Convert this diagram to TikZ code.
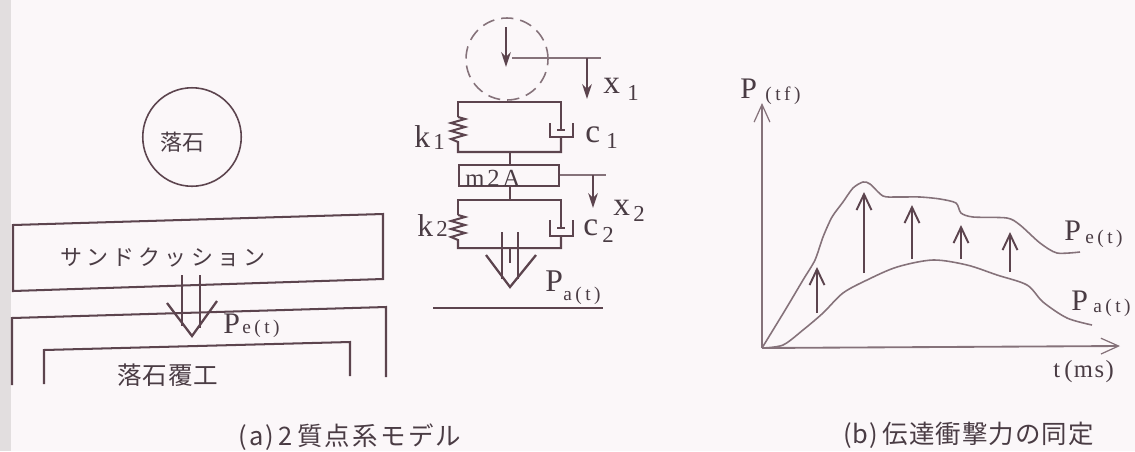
\documentclass[tikz,border=0pt]{standalone}
\usepackage{fontspec}
\usepackage{xcolor}
\setmainfont{Liberation Serif}
\newfontfamily\jpfont{Noto Sans CJK JP}
\usetikzlibrary{arrows.meta}
\definecolor{PaperBg}{HTML}{FBF7F9}
\definecolor{PaperEdge}{HTML}{E2DEDF}
\definecolor{InkLine}{HTML}{5C444E}
\definecolor{InkSoft}{HTML}{85727A}
\definecolor{InkText}{HTML}{4A3C44}
\tikzset{
  inkline/.style={draw=InkLine,line width=1.15pt},
  softline/.style={draw=InkSoft,line width=0.7pt},
  pullarrow/.style={draw=InkLine,line width=1.1pt,-{Stealth[length=8.5pt,width=5.5pt]}},
  forcearrow/.style={draw=InkLine,line width=1.2pt,-{Straight Barb[length=9pt,width=8.5pt,line width=1.1pt]}},
  axisline/.style={draw=InkSoft,line width=1.05pt,-{Straight Barb[length=10pt,width=9pt,line width=0.7pt]}},
  curveline/.style={draw=InkSoft,line width=0.9pt},
  ltext/.style={text=InkText,inner sep=0pt,anchor=base west,font=\fontsize{17}{17}\selectfont},
  lsmall/.style={text=InkText,inner sep=0pt,anchor=base west,font=\fontsize{13}{13}\selectfont},
  lsub/.style={text=InkText,inner sep=0pt,anchor=base west,font=\fontsize{11}{11}\selectfont\addfontfeature{LetterSpace=18}},
  jtext/.style={text=InkText,inner sep=0pt,font=\jpfont\fontsize{12.5}{13}\selectfont},
  captext/.style={text=InkText,inner sep=0pt,font=\jpfont\fontsize{14.5}{15}\selectfont\addfontfeature{LetterSpace=9}}
}
\begin{document}
\begin{tikzpicture}[x=0.02cm,y=-0.02cm]
\path[use as bounding box] (0,0) rectangle (1135,451);
\fill[PaperBg] (0,0) rectangle (1135,451);
\fill[PaperEdge] (0,0) rectangle (11,451);
% (a) left: rock, cushion, shed
\node[circle,draw=InkLine,line width=0.9pt,minimum size=1.97cm,inner sep=0pt] (rock) at (192,137) {};
\node[jtext] (rockLabel) at (182,142) {落石};
\draw[inkline] (13,225) -- (383,214) -- (383,279) -- (13,291) -- cycle;
\node[jtext,anchor=west] (cushion) at (60,257) {\addfontfeature{LetterSpace=19}サンドクッション};
\draw[inkline] (12,385) -- (12,318) -- (386,307) -- (386,377);
\draw[inkline] (44,384) -- (44,350) -- (350,342) -- (350,376);
\node[jtext,anchor=west,font=\jpfont\fontsize{14}{14}\selectfont] (shed) at (117,375) {\addfontfeature{LetterSpace=3}落石覆工};
\coordinate (peTip) at (192,336);
\draw[inkline] (182,275) -- (182,326);
\draw[inkline] (200,275) -- (200,328);
\draw[inkline,line width=1.3pt] (167,303) -- (peTip) -- (217,301);
\node[ltext] (peLeft) at (223,333) {P};
\node[lsub] (peLeftSub) at (242,333) {e(t)};
% (a) right: two mass model
\node[circle,draw=InkSoft,dash pattern=on 7pt off 4pt,line width=0.9pt,minimum size=1.64cm,inner sep=0pt] (mass1) at (507,59) {};
\draw[pullarrow] (506,27) -- (506,67);
\coordinate (x1Start) at (512,58);
\coordinate (x1End) at (601,58);
\draw[softline] (x1Start) -- (x1End);
\draw[pullarrow] (587,58) -- (587,99);
\node[ltext,font=\fontsize{19}{19}\selectfont] (x1Label) at (603,93) {x};
\node[lsmall] (x1Sub) at (627,100) {1};
% upper spring and damper
\draw[inkline] (458,117) -- (458,102) -- (561,102) -- (561,130);
\draw[inkline] (458,117) -- (465,119) -- (451,123) -- (465,127) -- (451,131) -- (465,135) -- (451,139) -- (458,142) -- (458,152) -- (561,152) -- (561,137);
\draw[inkline] (550,123) -- (550,137) -- (573,137) -- (573,123);
\draw[inkline,line width=1.5pt] (557,130) -- (565,130);
\node[ltext,font=\fontsize{18}{18}\selectfont] (k1Label) at (414,147) {k};
\node[lsmall] (k1Sub) at (433,149) {1};
\node[ltext,font=\fontsize{19}{19}\selectfont] (c1Label) at (585,142) {c};
\node[lsmall] (c1Sub) at (606,148) {1};
% mass
\node[draw=InkLine,line width=1.15pt,minimum width=2cm,minimum height=0.42cm,inner sep=0pt] (mass2) at (509,175.5) {};
\node[text=InkText,inner sep=0pt,anchor=base west,font=\fontsize{14}{14}\selectfont\addfontfeature{LetterSpace=12}] (mass2Label) at (465,186) {m2A};
\draw[inkline] (510,152) -- (510,165);
\draw[inkline] (510,186) -- (510,200);
\coordinate (x2End) at (606,175);
\draw[softline] (mass2.east |- x2End) -- (x2End);
\draw[pullarrow] (593,175) -- (593,208);
\node[ltext,font=\fontsize{19}{19}\selectfont] (x2Label) at (613,215) {x};
\node[lsmall] (x2Sub) at (633,221) {2};
% lower spring and damper
\draw[inkline] (458,215) -- (458,200) -- (561,200) -- (561,228);
\draw[inkline] (458,215) -- (465,217) -- (451,221) -- (465,225) -- (451,229) -- (465,233) -- (451,237) -- (458,240) -- (458,248) -- (561,248) -- (561,236);
\draw[inkline] (550,220) -- (550,236) -- (573,236) -- (573,220);
\draw[inkline,line width=1.5pt] (557,228) -- (565,228);
\node[ltext,font=\fontsize{18}{18}\selectfont] (k2Label) at (417,236) {k};
\node[lsmall] (k2Sub) at (436,236) {2};
\node[ltext,font=\fontsize{19}{19}\selectfont] (c2Label) at (583,235) {c};
\node[lsmall] (c2Sub) at (602,242) {2};
% load on the ground
\coordinate (paTip) at (510,287);
\draw[inkline] (502,232) -- (502,279);
\draw[inkline] (518,232) -- (518,279);
\draw[inkline] (510,248) -- (510,263);
\draw[inkline,line width=1.3pt] (486,255) -- (paTip) -- (536,255);
\coordinate (groundL) at (433,308);
\coordinate (groundR) at (603,308);
\draw[inkline] (groundL) -- (groundR);
\node[ltext,font=\fontsize{18}{18}\selectfont] (paLeft) at (545,291) {P};
\node[lsub] (paLeftSub) at (563,300) {a(t)};
% (b) graph
\coordinate (origin) at (762,348);
\coordinate (yEnd) at (762,103);
\coordinate (xEnd) at (1120,346);
\draw[axisline] (origin) -- (yEnd);
\draw[axisline] (origin) -- (xEnd);
\draw[curveline] plot[smooth,tension=0.45] coordinates {(762,348) (773,330) (787,307) (803,280) (815,260) (823,237) (832,217) (843,202) (853,188) (863,182) (870,184) (883,196) (897,197) (920,197) (940,199) (956,203) (961,213) (973,217) (1007,218) (1020,225) (1040,243) (1057,253) (1080,252)};
\draw[curveline] plot[smooth,tension=0.5] coordinates {(762,348) (783,345) (803,330) (823,313) (843,293) (867,280) (897,267) (933,260) (967,265) (997,275) (1027,285) (1043,302) (1067,318) (1092,325)};
\draw[forcearrow] (817,313) -- (817,267);
\draw[forcearrow] (864,273) -- (864,192);
\draw[forcearrow] (912,259) -- (912,205);
\draw[forcearrow] (961,259) -- (961,225);
\draw[forcearrow] (1010,272) -- (1010,232);
\node[ltext] (pAxis) at (740,98) {P};
\node[lsub] (pAxisUnit) at (765,100) {(t\kern2pt f)};
\node[ltext] (peRight) at (1064,240) {P};
\node[lsub] (peRightSub) at (1085,243) {e(t)};
\node[ltext] (paRight) at (1071,310) {P};
\node[lsub] (paRightSub) at (1093,312) {a(t)};
\node[lsmall,font=\fontsize{14}{14}\selectfont\addfontfeature{LetterSpace=6}] (tAxis) at (1053,377) {t\,(ms)};
% captions
\node[captext,anchor=west] (capA) at (238,437) {(a)\,2\,質点系モデル};
\node[captext,anchor=west] (capB) at (843,435) {\addfontfeature{LetterSpace=4}(b)\,伝達衝撃力の同定};
\end{tikzpicture}
\end{document}
